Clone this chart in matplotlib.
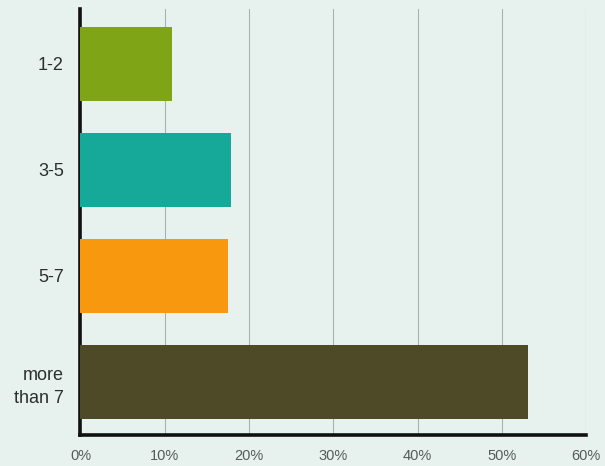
import matplotlib
matplotlib.use("Agg")
from matplotlib import pyplot as plt

# answers and their share of respondents
categories = ["1-2", "3-5", "5-7", "more\nthan 7"]
shares = [10.8, 17.8, 17.5, 53.1]
bar_colors = ["#7fa516", "#16a898", "#f7980e", "#4e4a27"]
ticks = [0, 10, 20, 30, 40, 50, 60]
tick_labels = ["0%", "10%", "20%", "30%", "40%", "50%", "60%"]

plt.rcParams['font.family'] = ['Liberation Sans Narrow', 'Liberation Sans', 'DejaVu Sans']

bg = "#e7f2ee"
fig = plt.figure(figsize=(6.05, 4.66), dpi=100, facecolor=bg)
ax = fig.add_axes([0.133, 0.067, 0.836, 0.914], facecolor=bg)

ypos = list(range(len(categories)))
ax.barh(ypos, shares, height=0.70, color=bar_colors, zorder=3)

ax.set_xlim(0, 60)
ax.set_ylim(3.5, -0.52)
ax.set_xticks(ticks)
ax.set_xticklabels(tick_labels, fontsize=10.5, color="#555b58")
ax.set_yticks(ypos)
ax.set_yticklabels(categories, fontsize=13, color="#2b2f2d", linespacing=1.5)
ax.tick_params(axis="both", length=0)
ax.tick_params(axis="y", pad=12)
ax.tick_params(axis="x", pad=10)

ax.grid(axis="x", color="#a9b3af", linewidth=0.8, zorder=1)
for s in ["top", "right"]:
    ax.spines[s].set_visible(False)
ax.spines["left"].set_linewidth(2.6)
ax.spines["bottom"].set_linewidth(2.6)
ax.spines["left"].set_color("#111111")
ax.spines["bottom"].set_color("#111111")

fig.savefig("out.png", dpi=100, facecolor=bg)
